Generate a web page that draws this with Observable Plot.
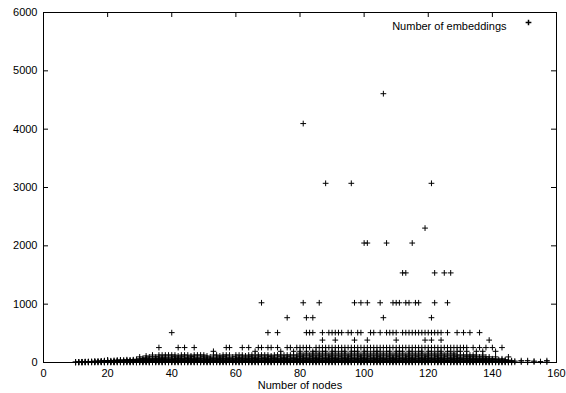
<!DOCTYPE html>
<html><head><meta charset="utf-8">
<script src="https://cdn.jsdelivr.net/npm/d3@7"></script>
<script src="https://cdn.jsdelivr.net/npm/@observablehq/plot@0.6"></script>
<style>html,body{margin:0;padding:0;background:#fff;}</style>
</head><body>
<script>
const xTicks = [0, 20, 40, 60, 80, 100, 120, 140, 160];
const yTicks = [0, 1000, 2000, 3000, 4000, 5000, 6000];
const seriesName = "Number of embeddings";
const xLabel = "Number of nodes";

// isolated high values [nodes, embeddings]
const highPoints = [[81,4096],[106,4608],[88,3072],[96,3072],[121,3072],[119,2304],
  [100,2048],[101,2048],[107,2048],[115,2048],[112,1536],[113,1536],[122,1536],[125,1536],[127,1536]];
const x1024 = [68,81,86,97,99,101,105,109,110,111,113,114,116,117,122,126];
const x768 = [76,82,84,106,121];
const x512 = [40,70,73,82,83,84,87,89,90,91,92,93,95,96,98,99,102,103,105,107,108,109,110,112,113,114,115,116,117,118,119,120,121,122,123,124,126,129,131,133,136];
const x384 = [87,91,97,101,110,119,121,124,139];
const x256 = [36,42,44,47,57,58,62,64,67,68,70,71,73,76,77,79,80,81,82,83,85,86,87,88,89,90,91,92,93,94,95,96,97,98,99,100,101,102,103,104,105,106,107,108,109,110,111,112,113,114,115,116,117,118,119,120,121,122,123,124,125,126,127,128,129,130,131,132,134,136,138,140,143];
const x192 = [53,66,74,78,80,82,84,85,87,88,90,91,93,94,96,97,98,100,101,103,104,105,107,108,110,111,112,114,115,117,118,120,121,123,124,126,127,129,130,132,135,137,141];
// dense low band: "nodes:values"
const lowBand = `10:1,2,4,8
11:1,3,6,10
12:1,2,4,8,12
13:1,4,8,16
14:2,4,8,12,16
15:1,6,12,18
16:2,4,8,16,24
17:1,8,16,24
18:2,6,12,20,28
19:1,4,8,16,24,32
20:2,8,16,24,32
21:1,6,12,20,30
22:2,4,8,16,24,36
23:1,8,16,24,32,40
24:2,6,12,24,36,44
25:1,4,8,16,32,40
26:2,8,16,24,36,48
27:1,6,12,24,32,44
28:2,8,16,24,40,48
29:1,4,12,24,36,56
30:2,8,16,32,48,64,96
31:1,6,16,24,40,56,72
32:2,8,16,32,48,64,80,112
33:1,4,12,24,36,48,64,96
34:2,8,16,32,48,64,96,128
35:1,8,16,24,40,56,72,96
36:2,8,16,32,48,64,96,128
37:1,6,16,32,48,64,80,128
38:2,8,16,32,48,72,96,128
39:1,8,12,24,40,56,80,128
40:2,8,16,32,48,64,96,128
41:1,6,16,32,48,64,96,128
42:2,8,16,24,40,64,80,112
43:1,8,16,32,48,64,96,128
44:2,6,16,32,48,72,96,128
45:1,8,16,24,40,64,80,128
46:2,8,16,32,48,64,96,112
47:1,8,16,32,48,64,96,128
48:2,6,12,32,48,64,80,128
49:1,8,16,24,40,64,96,128
50:2,8,16,32,48,72,96,128
51:1,6,16,24,40,56,80,112
52:2,8,16,32,48,64,96
53:1,8,12,24,40,64,80,128
54:2,8,16,32,48,64,96,128
55:1,6,16,24,48,64,80,112
56:2,8,16,32,40,64,96,128
57:1,8,16,24,48,72,96,128
58:2,6,16,32,48,64,80,128
59:1,8,12,24,40,64,96
60:2,8,16,32,48,64,96,128
61:1,6,16,24,48,72,80,128
62:2,8,16,32,40,64,96,128
63:1,8,16,24,48,64,80,112
64:2,6,12,32,48,64,96,128
65:1,8,16,24,40,72,96,128
66:2,8,16,32,48,64,80,128
67:1,6,16,24,48,64,96,128
68:2,8,16,32,40,72,96,128
69:1,8,12,24,48,64,80,128
70:2,8,16,32,48,64,96,128
71:1,6,16,24,40,64,96,112
72:2,8,16,32,48,72,80,128
73:1,8,16,24,48,64,96,128
74:2,6,12,32,40,64,96,128
75:1,8,16,24,48,72,80,128
76:2,8,16,32,48,64,96,128
77:1,6,16,24,40,64,96,128
78:2,8,16,32,48,72,80,128
79:1,8,12,24,48,64,96,128
80:2,8,16,32,48,64,96,128,160
81:1,6,16,24,40,72,96,128
82:2,8,16,32,48,64,80,128,160
83:1,8,12,24,48,64,96,128
84:2,6,16,32,40,72,96,128,160
85:1,8,16,24,48,64,80,128
86:2,8,16,32,48,64,96,128,160
87:1,6,12,24,40,72,96,128
88:2,8,16,32,48,64,80,128,160
89:1,8,16,24,48,64,96,128
90:2,6,16,32,40,72,96,128,160
91:1,8,12,24,48,64,80,128
92:2,8,16,32,48,64,96,128,160
93:1,6,16,24,40,72,96,128
94:2,8,16,32,48,64,80,128,160
95:1,8,12,24,48,64,96,128
96:2,6,16,32,40,72,96,128,160
97:1,8,16,24,48,64,80,128
98:2,8,16,32,48,64,96,128,160
99:1,6,12,24,40,72,96,128
100:2,8,16,32,48,64,80,128,160
101:1,8,16,24,48,64,96,128
102:2,6,16,32,40,72,96,128,160
103:1,8,12,24,48,64,80,128
104:2,8,16,32,48,64,96,128,160
105:1,6,16,24,40,72,96,128
106:2,8,16,32,48,64,80,128,160
107:1,8,12,24,48,64,96,128
108:2,6,16,32,40,72,96,128,160
109:1,8,16,24,48,64,80,128
110:2,8,16,32,48,64,96,128,160
111:1,6,12,24,40,72,96,128
112:2,8,16,32,48,64,80,128,160
113:1,8,16,24,48,64,96,128
114:2,6,16,32,40,72,96,128,160
115:1,8,12,24,48,64,80,128
116:2,8,16,32,48,64,96,128,160
117:1,6,16,24,40,72,96,128
118:2,8,16,32,48,64,80,128,160
119:1,8,12,24,48,64,96,128
120:2,6,16,32,40,72,96,128,160
121:1,8,16,24,48,64,80,128
122:2,8,16,32,48,64,96,128,160
123:1,6,12,24,40,72,96,128
124:2,8,16,32,48,64,80,128,160
125:1,8,16,24,48,64,96,128
126:2,6,16,32,40,72,96,128,160
127:1,8,12,24,48,64,80,128
128:2,8,16,32,48,64,96,128,160
129:1,6,16,24,40,72,96,128
130:2,8,16,32,48,64,80,128
131:1,8,12,24,48,64,96,128
132:2,6,16,32,40,72,96,128
133:1,8,16,32,48,64,96,128
134:2,8,16,24,48,64,96,128
135:1,8,16,32,48,72,96,128
136:2,6,16,32,48,64,96
137:1,8,16,32,48,72,96,128
138:2,6,16,32,48,64,96
139:1,8,16,24,40,64,96
140:2,8,16,32,48,64
141:1,8,16,24,48,64,96
142:2,6,16,32,48
143:1,8,16,24,40,64
144:2,8,16,32,48
145:1,8,24,40,96
146:1,16,32
147:4,24
149:8,32
151:4,32
153:8,24
155:16
157:8,32`;

const points = [];
for (const [x, y] of highPoints) points.push({x, y});
for (const [xs, y] of [[x1024,1024],[x768,768],[x512,512],[x384,384],[x256,256],[x192,192]])
  for (const x of xs) points.push({x, y});
for (const line of lowBand.trim().split("\n")) {
  const [xs, vs] = line.split(":");
  for (const v of vs.split(",")) points.push({x: +xs, y: +v});
}

const W = 566, H = 393;
const mL = 43, mR = 10, mT = 12, mB = 31;
const pw = W - mL - mR, ph = H - mT - mB;
const font = "'Liberation Sans', Arial, Helvetica, sans-serif";

const chart = Plot.plot({
  width: W, height: H,
  marginLeft: mL, marginRight: mR, marginTop: mT, marginBottom: mB,
  x: {domain: [0, 160], label: null},
  y: {domain: [0, 6000], label: null},
  style: {fontFamily: font, fontSize: "11px", background: "#fff", color: "#000"},
  marks: [
    Plot.tickY(yTicks, {y: d => d, insetRight: pw - 5, stroke: "#000"}),
    Plot.tickY(yTicks, {y: d => d, insetLeft: pw - 5, stroke: "#000"}),
    Plot.tickX(xTicks, {x: d => d, insetTop: ph - 5, stroke: "#000"}),
    Plot.tickX(xTicks, {x: d => d, insetBottom: ph - 5, stroke: "#000"}),
    Plot.axisY({ticks: yTicks, tickSize: 0, tickPadding: 6, tickFormat: d => String(d), label: null, fontSize: 11}),
    Plot.axisX({ticks: xTicks, tickSize: 0, tickPadding: 7, tickFormat: d => String(d), label: null, fontSize: 11}),
    Plot.dot(points, {x: "x", y: "y", symbol: "plus", r: 2, stroke: "#000", strokeWidth: 1}),
    Plot.frame({stroke: "#000"}),
    Plot.text([xLabel], {text: d => d, frameAnchor: "bottom", dy: 26, fontSize: 11}),
    Plot.text([seriesName], {text: d => d, frameAnchor: "top-right", dx: -50, dy: 10, textAnchor: "end", fontSize: 11}),
    Plot.dot([seriesName], {frameAnchor: "top-right", dx: -28, dy: 10, symbol: "plus", r: 2, stroke: "#000"})
  ]
});
document.body.appendChild(chart);
</script>
</body></html>
